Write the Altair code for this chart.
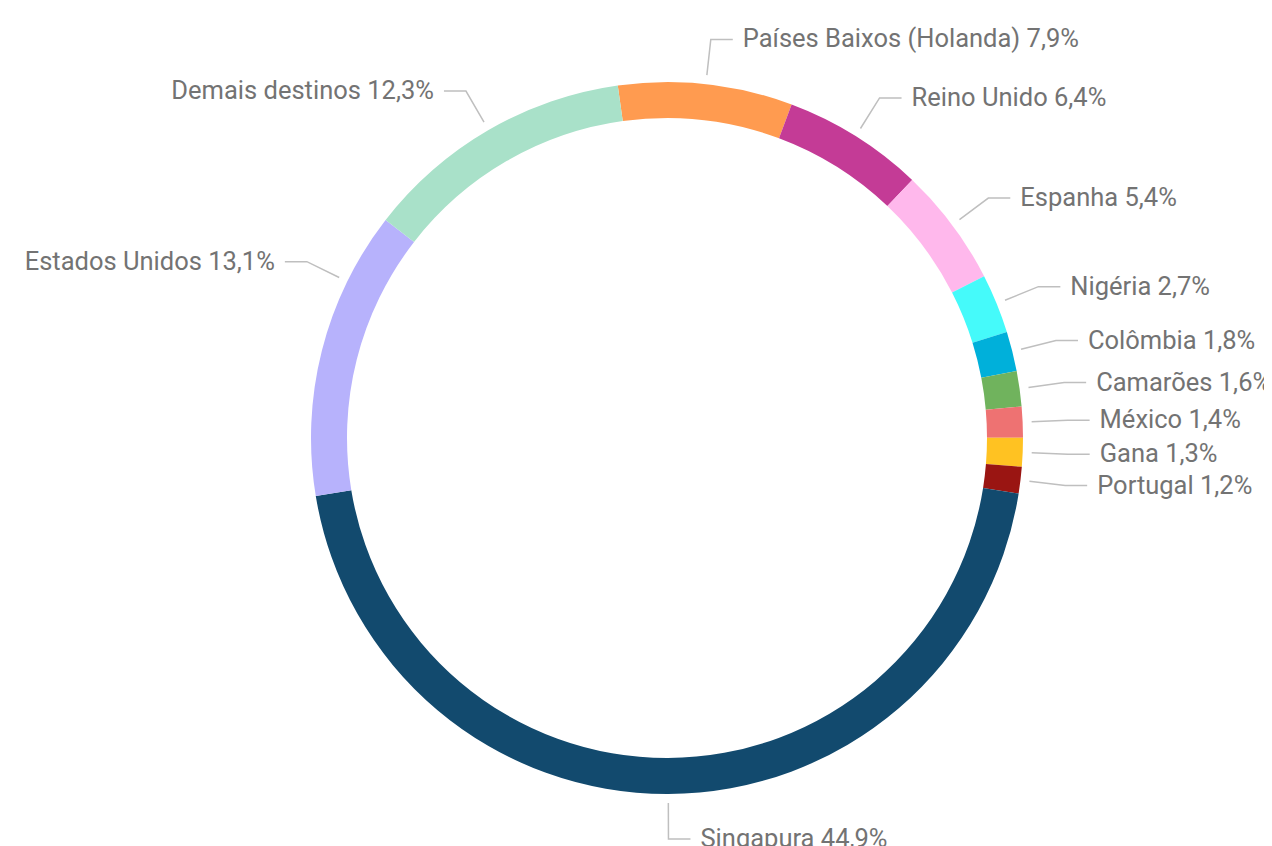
import math
import numpy as np
import pandas as pd
import altair as alt

# ---- data ----
categories = ["Países Baixos (Holanda)", "Reino Unido", "Espanha", "Nigéria", "Colômbia",
              "Camarões", "México", "Gana", "Portugal", "Singapura", "Estados Unidos",
              "Demais destinos"]
values = [7.9, 6.4, 5.4, 2.7, 1.8, 1.6, 1.4, 1.3, 1.2, 44.9, 13.1, 12.3]
colors = ["#FF9B50", "#C43B96", "#FFB8EC", "#45FAFA", "#00B0DA", "#70B35D",
          "#EE7272", "#FFC222", "#9A1512", "#124A6E", "#B7B2FC", "#A9E1C9"]

# ---- layout / style ----
W, H = 1256, 838
CX, CY = 659, 430          # donut centre inside the view
START_DEG = -7.95          # angle where the first slice begins
R_OUT, R_IN = 356, 320
R_LEAD0, R_LEAD1 = 365, 401
HSEG, GAP = 22, 10
label_angle_shift = {"Estados Unidos": 11.9}
TEXT_COLOR = "#737373"
LINE_COLOR = "#BFBFBF"
FONT = "Roboto"
FONT_SIZE = 25.5

vals = np.array(values, dtype=float)
total = vals.sum()
cum = np.concatenate([[0.0], np.cumsum(vals)[:-1]])

arc_df = pd.DataFrame({"cat": categories, "value": values, "ord": list(range(len(values)))})

line_rows, label_rows = [], []
for i, (c, v) in enumerate(zip(categories, values)):
    a = START_DEG + (cum[i] + v / 2) / total * 360 + label_angle_shift.get(c, 0.0)
    r = math.radians(a)
    sx, sy = math.sin(r), -math.cos(r)
    side = 1 if sx >= 0 else -1
    p0 = (R_LEAD0 * sx, R_LEAD0 * sy)
    p1 = (R_LEAD1 * sx, R_LEAD1 * sy)
    p2 = (p1[0] + side * HSEG, p1[1])
    for k, p in enumerate([p0, p1, p2]):
        line_rows.append({"cat": c, "pt": k, "x": p[0], "y": p[1]})
    label_rows.append({"cat": c, "x": p2[0] + side * GAP, "y": p2[1],
                       "side": "right" if side > 0 else "left",
                       "label": f"{c} {v:.1f}".replace(".", ",") + "%"})
line_df = pd.DataFrame(line_rows)
label_df = pd.DataFrame(label_rows)

xs = alt.Scale(domain=[-CX, W - CX], range=[0, W], nice=False, zero=False)
ys = alt.Scale(domain=[-CY, H - CY], range=[0, H], nice=False, zero=False)
a0 = math.radians(START_DEG)

arc = alt.Chart(arc_df).mark_arc(outerRadius=R_OUT, innerRadius=R_IN).encode(
    theta=alt.Theta("value:Q", stack=True, scale=alt.Scale(range=[a0, a0 + 2 * math.pi])),
    order=alt.Order("ord:Q"),
    color=alt.Color("cat:N", scale=alt.Scale(domain=categories, range=colors), legend=None),
    x=alt.XDatum(0, type="quantitative", scale=xs, axis=None),
    y=alt.YDatum(0, type="quantitative", scale=ys, axis=None),
)

lines = alt.Chart(line_df).mark_line(color=LINE_COLOR, strokeWidth=1.5).encode(
    x=alt.X("x:Q", scale=xs, axis=None),
    y=alt.Y("y:Q", scale=ys, axis=None),
    detail="cat:N",
    order="pt:Q",
)

def text_layer(side, align):
    return alt.Chart(label_df).transform_filter(
        alt.datum.side == side
    ).mark_text(align=align, baseline="middle", font=FONT, fontSize=FONT_SIZE,
                color=TEXT_COLOR).encode(
        x=alt.X("x:Q", scale=xs, axis=None),
        y=alt.Y("y:Q", scale=ys, axis=None),
        text="label:N",
    )

chart = alt.layer(arc, lines, text_layer("right", "left"), text_layer("left", "right")).properties(
    width=W, height=H, autosize=alt.AutoSizeParams(type="none"), padding=0
).configure_view(stroke=None)

chart.save("out.html", embed_options={"renderer": "svg", "actions": False})
